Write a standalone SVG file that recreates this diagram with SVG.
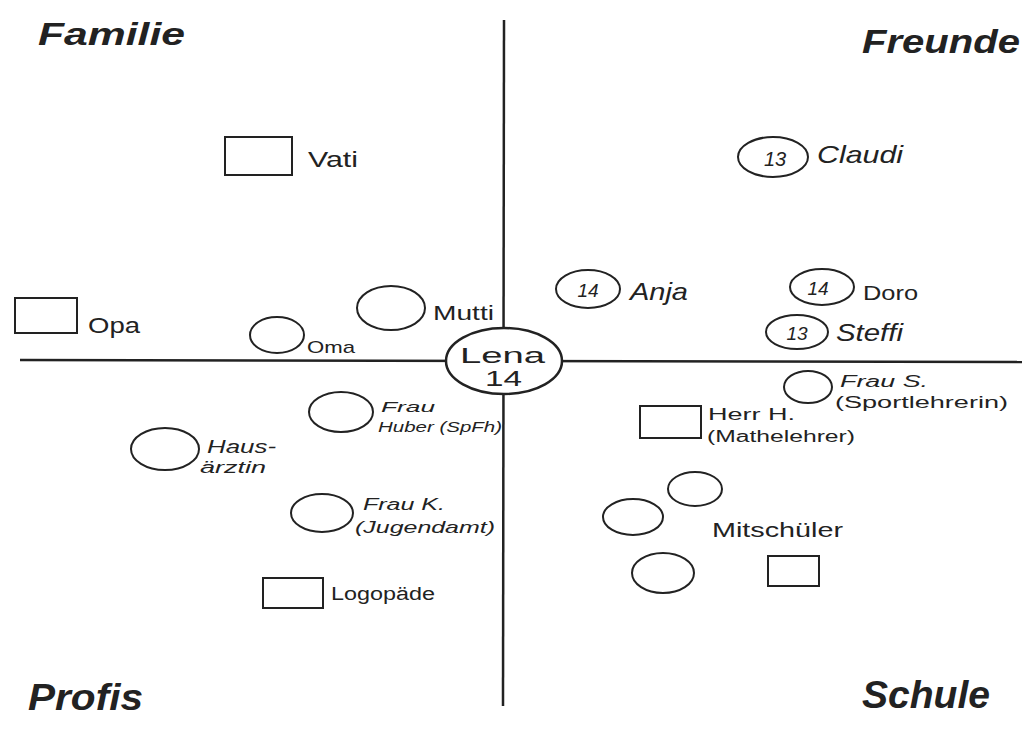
<svg xmlns="http://www.w3.org/2000/svg" width="1022" height="735" viewBox="0 0 1022 735">
<style>
.s{fill:none;stroke:#222;stroke-width:2}
.ax{stroke:#222;stroke-width:2.5;fill:none}
.t{font-family:"Liberation Sans",Arial,sans-serif;fill:#222}
.ti{font-family:"Liberation Sans",Arial,sans-serif;fill:#222;font-weight:bold;font-style:italic}
.n{font-family:"Liberation Sans",Arial,sans-serif;fill:#222;font-style:italic;text-anchor:middle}
</style>
<rect width="1022" height="735" fill="#fff"/>
<g id="connectors">
<line class="ax" x1="504" y1="20" x2="503" y2="706"/>
<line class="ax" x1="20" y1="360" x2="1022" y2="362"/>
</g>
<g id="titles">
<text class="ti" x="38" y="45" font-size="32" textLength="147" lengthAdjust="spacingAndGlyphs">Familie</text>
<text class="ti" x="862" y="53" font-size="34" textLength="158" lengthAdjust="spacingAndGlyphs">Freunde</text>
<text class="ti" x="28" y="710" font-size="36" textLength="115" lengthAdjust="spacingAndGlyphs">Profis</text>
<text class="ti" x="862" y="708" font-size="38" textLength="128" lengthAdjust="spacingAndGlyphs">Schule</text>
</g>
<g id="lena">
<ellipse cx="504" cy="361" rx="58" ry="33" fill="#fff" stroke="#222" stroke-width="2.5"/>
<text class="t" x="460" y="363" font-size="22" textLength="85" lengthAdjust="spacingAndGlyphs">Lena</text>
<text class="t" x="485" y="386" font-size="22" textLength="37" lengthAdjust="spacingAndGlyphs">14</text>
</g>
<g id="vati">
<rect class="s" x="225" y="137" width="67" height="38"/>
<text class="t" x="308" y="167" font-size="22" textLength="50" lengthAdjust="spacingAndGlyphs">Vati</text>
</g>
<g id="opa">
<rect class="s" x="15" y="298" width="62" height="35"/>
<text class="t" x="88" y="333" font-size="22" textLength="52" lengthAdjust="spacingAndGlyphs">Opa</text>
</g>
<g id="oma">
<ellipse class="s" cx="277" cy="335" rx="27" ry="18"/>
<text class="t" x="307" y="353" font-size="17" textLength="48" lengthAdjust="spacingAndGlyphs">Oma</text>
</g>
<g id="mutti">
<ellipse class="s" cx="391" cy="308" rx="34" ry="22"/>
<text class="t" x="433" y="320" font-size="20" textLength="61" lengthAdjust="spacingAndGlyphs">Mutti</text>
</g>
<g id="claudi">
<ellipse class="s" cx="773" cy="157" rx="35" ry="20"/>
<text class="n" x="775" y="166" font-size="20">13</text>
<text class="t" x="817" y="163" font-size="24" font-style="italic" textLength="86" lengthAdjust="spacingAndGlyphs">Claudi</text>
</g>
<g id="anja">
<ellipse class="s" cx="588" cy="289" rx="32" ry="19"/>
<text class="n" x="588" y="297" font-size="19">14</text>
<text class="t" x="630" y="300" font-size="24" font-style="italic" textLength="58" lengthAdjust="spacingAndGlyphs">Anja</text>
</g>
<g id="doro">
<ellipse class="s" cx="822" cy="287" rx="32" ry="18"/>
<text class="n" x="818" y="295" font-size="19">14</text>
<text class="t" x="863" y="300" font-size="20" textLength="55" lengthAdjust="spacingAndGlyphs">Doro</text>
</g>
<g id="steffi">
<ellipse class="s" cx="797" cy="332" rx="31" ry="17"/>
<text class="n" x="797" y="340" font-size="19">13</text>
<text class="t" x="836" y="341" font-size="24" font-style="italic" textLength="67" lengthAdjust="spacingAndGlyphs">Steffi</text>
</g>
<g id="frau-huber">
<ellipse class="s" cx="341" cy="412" rx="32" ry="20"/>
<text class="t" x="381" y="412" font-size="15" font-style="italic" textLength="54" lengthAdjust="spacingAndGlyphs">Frau</text>
<text class="t" x="378" y="432" font-size="15" font-style="italic" textLength="124" lengthAdjust="spacingAndGlyphs">Huber (SpFh)</text>
</g>
<g id="hausaerztin">
<ellipse class="s" cx="165" cy="449" rx="34" ry="21"/>
<text class="t" x="207" y="453" font-size="18" font-style="italic" textLength="69" lengthAdjust="spacingAndGlyphs">Haus-</text>
<text class="t" x="200" y="473" font-size="16" font-style="italic" textLength="66" lengthAdjust="spacingAndGlyphs">ärztin</text>
</g>
<g id="frau-k">
<ellipse class="s" cx="322" cy="513" rx="31" ry="19"/>
<text class="t" x="363" y="510" font-size="16" font-style="italic" textLength="82" lengthAdjust="spacingAndGlyphs">Frau K.</text>
<text class="t" x="355" y="533" font-size="17" font-style="italic" textLength="140" lengthAdjust="spacingAndGlyphs">(Jugendamt)</text>
</g>
<g id="logopaede">
<rect class="s" x="263" y="578" width="60" height="30"/>
<text class="t" x="331" y="600" font-size="18" textLength="104" lengthAdjust="spacingAndGlyphs">Logopäde</text>
</g>
<g id="frau-s">
<ellipse class="s" cx="808" cy="387" rx="24" ry="16"/>
<text class="t" x="840" y="387" font-size="16" font-style="italic" textLength="88" lengthAdjust="spacingAndGlyphs">Frau S.</text>
<text class="t" x="835" y="408" font-size="16" textLength="173" lengthAdjust="spacingAndGlyphs">(Sportlehrerin)</text>
</g>
<g id="herr-h">
<rect class="s" x="640" y="406" width="61" height="32"/>
<text class="t" x="708" y="420" font-size="16" textLength="87" lengthAdjust="spacingAndGlyphs">Herr H.</text>
<text class="t" x="707" y="442" font-size="16" textLength="148" lengthAdjust="spacingAndGlyphs">(Mathelehrer)</text>
</g>
<g id="mitschueler">
<ellipse class="s" cx="695" cy="489" rx="27" ry="17"/>
<ellipse class="s" cx="633" cy="517" rx="30" ry="18"/>
<ellipse class="s" cx="663" cy="573" rx="31" ry="20"/>
<rect class="s" x="768" y="556" width="51" height="30"/>
<text class="t" x="712" y="537" font-size="20" textLength="131" lengthAdjust="spacingAndGlyphs">Mitschüler</text>
</g>
</svg>
